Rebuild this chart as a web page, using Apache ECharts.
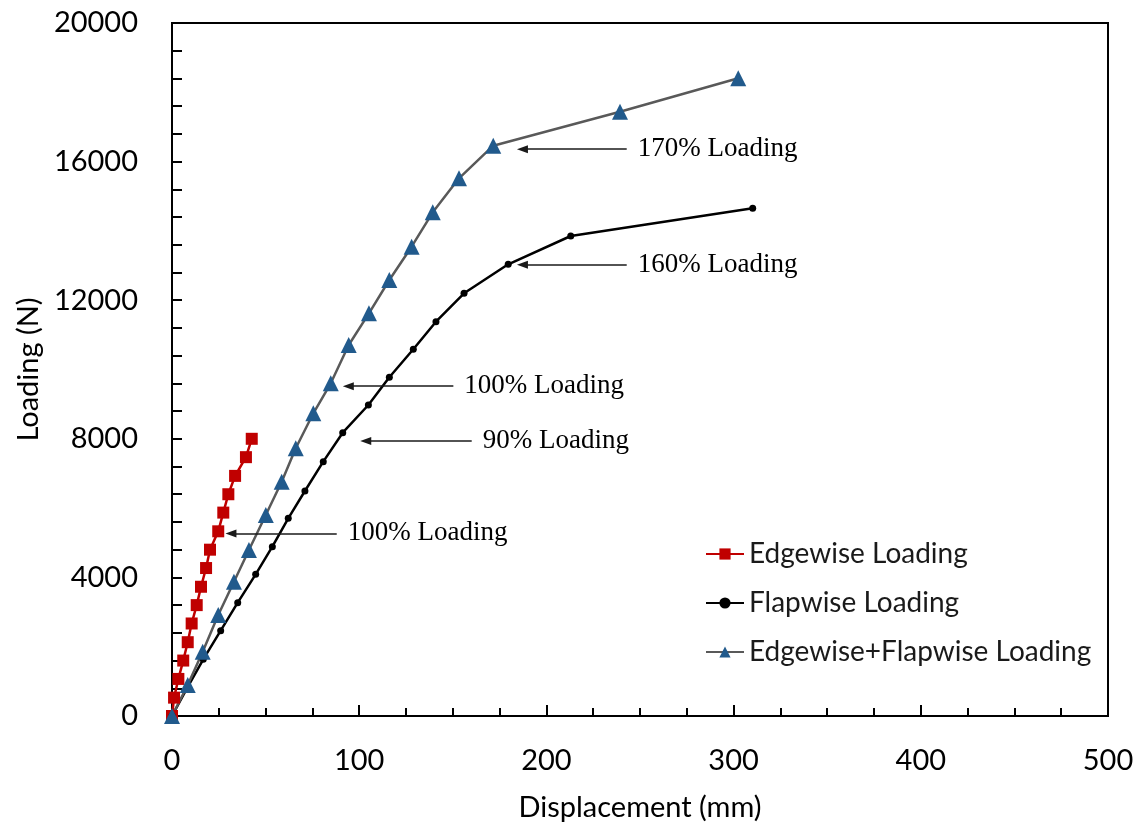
<!DOCTYPE html>
<html>
<head>
<meta charset="utf-8">
<title>Loading vs Displacement</title>
<script src="https://cdn.jsdelivr.net/npm/echarts@6.0.0/dist/echarts.min.js"></script>
<style>
  html, body { margin: 0; padding: 0; background: #fff; }
  #chart { width: 1143px; height: 828px; }
</style>
</head>
<body>
<div id="chart"></div>
<script>
// displacement (mm) / loading (N)
const edgeX = [0, 1.1, 3.4, 6.0, 8.4, 10.5, 13.2, 15.5, 18.2, 20.3, 24.7, 27.4, 30.1, 33.7, 39.5, 42.6]
const edgeY = [0, 530, 1070, 1600, 2130, 2670, 3200, 3730, 4270, 4800, 5330, 5870, 6400, 6930, 7470, 8000]

const flapX = [0, 8.2, 16.7, 26.0, 35.1, 44.7, 53.6, 62.1, 71.0, 80.8, 91.2, 104.9, 116.1, 128.9, 141.0, 156.0, 179.6, 213.0, 310.2]
const flapY = [0, 818, 1636, 2462, 3270, 4089, 4886, 5706, 6494, 7340, 8176, 8975, 9775, 10583, 11380, 12199, 13036, 13853, 14652]

const comboX = [0, 8.4, 16.4, 24.7, 33.1, 41.1, 50.1, 58.6, 66.1, 75.5, 84.8, 94.4, 105.2, 116.1, 128.0, 139.3, 153.3, 171.6, 239.3, 302.5]
const comboY = [0, 895, 1856, 2915, 3876, 4791, 5801, 6762, 7726, 8736, 9602, 10707, 11622, 12583, 13544, 14537, 15518, 16459, 17440, 18404]

const seriesNames = ['Edgewise Loading', 'Flapwise Loading', 'Edgewise+Flapwise Loading']

// arrow annotations: text, owning series, load level, arrow tip x, arrow tail x
const noteText = ['100% Loading', '90% Loading', '160% Loading', '100% Loading', '170% Loading']
const noteSeries = [0, 1, 1, 2, 2]
const noteLoad = [5270, 7940, 13020, 9520, 16360]
const noteTip = [31.5, 103.5, 187.2, 94.2, 187.2]
const noteTail = [88.0, 160.1, 242.9, 150.3, 242.9]

const toPairs = (xs, ys) => xs.map((x, i) => [x, ys[i]])

const notesFor = (idx) => {
  const out = []
  noteText.forEach((t, i) => {
    if (noteSeries[i] !== idx) return
    out.push([
      { name: t, coord: [noteTail[i], noteLoad[i]] },
      { coord: [noteTip[i], noteLoad[i]] }
    ])
  })
  return out
}

const markLineStyle = (idx) => ({
  silent: true,
  animation: false,
  symbol: ['none', 'triangle'],
  symbolSize: [8, 11],
  lineStyle: { color: '#1a1a1a', width: 1.5, type: 'solid' },
  label: {
    show: true,
    position: 'start',
    distance: 11,
    formatter: '{b}',
    color: '#000',
    fontFamily: 'Liberation Serif',
    fontSize: 27
  },
  emphasis: { disabled: true },
  data: notesFor(idx)
})

const axisFont = { fontFamily: 'Lato', fontSize: 29, color: '#000' }

const options = {
  backgroundColor: '#fff',
  animation: false,
  grid: {
    left: 172, right: 35, top: 23, bottom: 112,
    outerBoundsMode: 'none',
    containLabel: false,
    show: true, borderColor: '#000', borderWidth: 2
  },
  legend: {
    orient: 'vertical',
    left: 700,
    top: 535,
    itemWidth: 38,
    itemHeight: 14,
    itemGap: 21,
    textStyle: { fontFamily: 'Lato', fontSize: 28, color: '#1a1a1a' },
    data: seriesNames
  },
  xAxis: {
    type: 'value',
    min: 0, max: 500, interval: 100,
    name: 'Displacement (mm)',
    nameLocation: 'middle',
    nameGap: 77,
    nameTextStyle: axisFont,
    axisLine: { lineStyle: { color: '#000', width: 2 } },
    axisTick: { inside: true, length: 11, lineStyle: { color: '#000', width: 2 } },
    minorTick: { show: true, splitNumber: 4, length: 8, lineStyle: { color: '#000', width: 2 } },
    axisLabel: { ...axisFont, margin: 30 },
    splitLine: { show: false }
  },
  yAxis: {
    type: 'value',
    min: 0, max: 20000, interval: 4000,
    name: 'Loading (N)',
    nameLocation: 'middle',
    nameGap: 127,
    nameTextStyle: axisFont,
    axisLine: { lineStyle: { color: '#000', width: 2 } },
    axisTick: { inside: true, length: 10, lineStyle: { color: '#000', width: 2 } },
    minorTick: { show: true, splitNumber: 5, length: 10, lineStyle: { color: '#000', width: 2 } },
    axisLabel: { ...axisFont, margin: 34, formatter: (v) => String(v) },
    splitLine: { show: false }
  },
  series: [
    {
      name: seriesNames[0],
      type: 'line',
      data: toPairs(edgeX, edgeY),
      symbol: 'rect',
      symbolSize: 12,
      lineStyle: { color: '#C00000', width: 2.5 },
      itemStyle: { color: '#C00000' },
      markLine: markLineStyle(0)
    },
    {
      name: seriesNames[1],
      type: 'line',
      data: toPairs(flapX, flapY),
      symbol: 'circle',
      symbolSize: 7,
      lineStyle: { color: '#000', width: 2.5 },
      itemStyle: { color: '#000' },
      markLine: markLineStyle(1)
    },
    {
      name: seriesNames[2],
      type: 'line',
      data: toPairs(comboX, comboY),
      symbol: 'triangle',
      symbolSize: 16,
      lineStyle: { color: '#595959', width: 2.5 },
      itemStyle: { color: '#215A8C' },
      markLine: markLineStyle(2)
    }
  ]
}

const chartInstance = echarts.init(document.getElementById('chart'), null, { renderer: 'canvas' })
chartInstance.setOption(options)
</script>
</body>
</html>
